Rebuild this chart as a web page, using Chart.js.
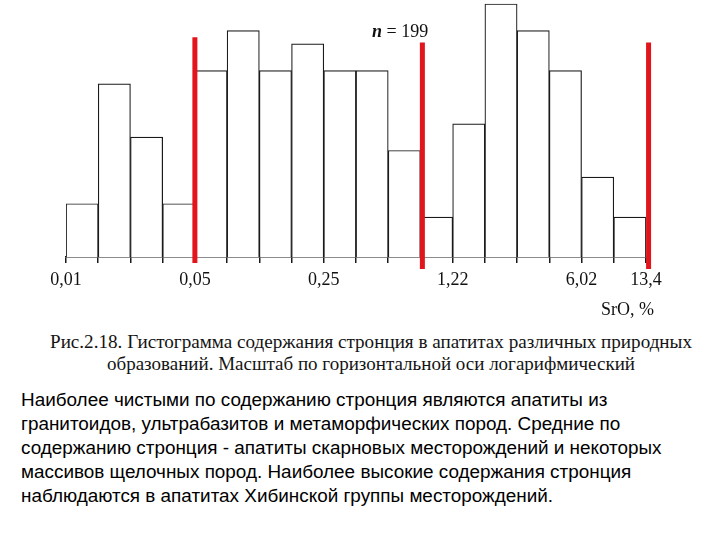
<!DOCTYPE html>
<html>
<head>
<meta charset="utf-8">
<script src="https://cdn.jsdelivr.net/npm/chart.js@4.4.1/dist/chart.umd.min.js"></script>
<style>
  html, body { margin: 0; padding: 0; background: #fff; }
  #wrap { position: relative; width: 720px; height: 540px; overflow: hidden; }
  #chart { position: absolute; left: 0; top: 0; }
  .serif { position: absolute; font-family: "Liberation Serif", "Times New Roman", serif; color: #111; white-space: nowrap; }
  .cap { font-size: 19px; line-height: 22px; transform-origin: 0 0; color: #141414; }
  #para { position: absolute; left: 21px; top: 388px; font-family: "Liberation Sans", Arial, sans-serif;
          font-size: 18.9px; line-height: 24px; color: #000; white-space: nowrap; }
</style>
</head>
<body>
<div id="wrap">
  <canvas id="chart" width="720" height="300"></canvas>
  <div class="serif" style="left:372px; top:22px; font-size:18px; line-height:18px;"><b><i>n</i></b> = 199</div>
  <div class="serif" style="left:601px; top:300px; font-size:18px; line-height:18px;">SrO, %</div>
  <div class="serif cap" id="cap1" data-w="642" style="left:50px; top:331px;">Рис.2.18. Гистограмма содержания стронция в апатитах различных природных</div>
  <div class="serif cap" id="cap2" data-w="528" style="left:107px; top:353px;">образований. Масштаб по горизонтальной оси логарифмический</div>
  <div id="para">Наиболее чистыми по содержанию стронция являются апатиты из<br>гранитоидов, ультрабазитов и метаморфических пород. Средние по<br>содержанию стронция - апатиты скарновых месторождений и некоторых<br>массивов щелочных пород. Наиболее высокие содержания стронция<br>наблюдаются в апатитах Хибинской группы месторождений.</div>
</div>
<script>
// histogram counts per log-bin (n = 199)
const counts = [4, 13, 9, 4, 14, 17, 14, 16, 14, 14, 8, 3, 10, 19, 17, 14, 6, 3];
const binNames = counts.map((_, i) => 'bin ' + (i + 1));

// labelled bin edges on the SrO axis
const edgeIndex = [0, 4, 8, 12, 16, 18];
const edgeLabels = ['0,01', '0,05', '0,25', '1,22', '6,02', '13,4'];

// red boundary lines, in bin-edge units and counts
const redEdges = [4, 11.06, 18.08];
const redTop = [16.5, 16.1, 16.1];
const redBottom = [-0.45, -0.9, -0.9];

// stretch caption lines to the width of the scanned caption
document.querySelectorAll('.cap').forEach(function(el) {
    const w = el.getBoundingClientRect().width;
    el.style.transform = 'scaleX(' + (Number(el.dataset.w) / w) + ')';
});

const redSets = redEdges.map((e, i) => ({
    type: 'line',
    xAxisID: 'x2',
    data: [{ x: e, y: redBottom[i] }, { x: e, y: redTop[i] }],
    borderColor: '#e2141c',
    borderWidth: 5,
    pointRadius: 0,
    clip: false,
    order: 0
}));

new Chart(document.getElementById('chart'), {
    type: 'bar',
    data: {
        labels: binNames,
        datasets: [{
            data: counts,
            backgroundColor: '#ffffff',
            borderColor: '#1a1a1a',
            borderWidth: 1.2,
            barPercentage: 1,
            categoryPercentage: 1,
            grouped: false,
            order: 1
        }].concat(redSets)
    },
    options: {
        responsive: false,
        animation: false,
        layout: { padding: { left: 66, right: 74, top: 0, bottom: 0 } },
        plugins: {
            legend: { display: false },
            tooltip: { enabled: false }
        },
        scales: {
            x: { display: false },
            x2: {
                type: 'linear',
                position: 'bottom',
                min: 0,
                max: 18,
                offset: false,
                afterFit: function(s) { s.height = 43; },
                grid: { offset: false, drawOnChartArea: false, drawTicks: true, tickLength: 6, color: '#1a1a1a', lineWidth: 1.5 },
                border: { display: true, color: '#1a1a1a', width: 1.5 },
                ticks: {
                    stepSize: 1,
                    autoSkip: false,
                    maxRotation: 0,
                    padding: 6,
                    color: '#111',
                    font: { family: '"Liberation Serif", "Times New Roman", serif', size: 18 },
                    callback: function(v) {
                        const k = edgeIndex.indexOf(v);
                        return k >= 0 ? edgeLabels[k] : '';
                    }
                }
            },
            y: { display: false, min: 0, max: 19.3 }
        }
    }
});
</script>
</body>
</html>
